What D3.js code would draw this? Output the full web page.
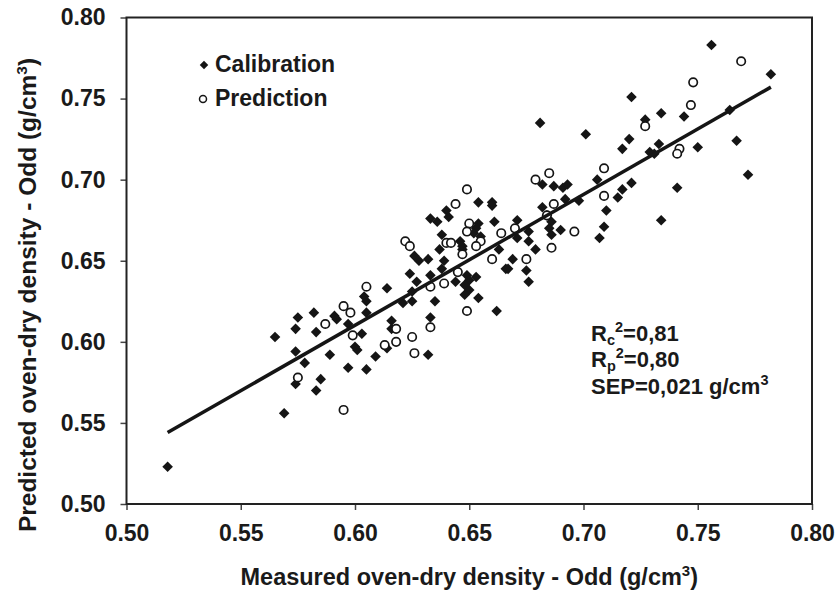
<!DOCTYPE html>
<html>
<head>
<meta charset="utf-8">
<script src="https://cdn.jsdelivr.net/npm/d3@7/dist/d3.min.js"></script>
<style>
  body { margin: 0; background: #fff; }
  text { font-family: "Liberation Sans", Arial, sans-serif; font-weight: bold; fill: #1a1a1a; }
</style>
</head>
<body>
<svg id="chart" width="838" height="593"></svg>
<script>
// Measured vs predicted oven-dry density, [measured, predicted] in g/cm3
const calibration = [
  [0.518,0.523],[0.565,0.603],[0.575,0.615],[0.574,0.608],[0.582,0.618],[0.583,0.606],[0.591,0.616],[0.592,0.614],
  [0.597,0.611],[0.603,0.605],[0.604,0.628],[0.605,0.625],[0.605,0.618],[0.574,0.594],[0.578,0.587],[0.589,0.592],
  [0.600,0.597],[0.601,0.595],[0.597,0.584],[0.605,0.583],[0.609,0.591],[0.574,0.574],[0.585,0.577],[0.583,0.570],
  [0.569,0.556],[0.614,0.633],[0.616,0.613],[0.614,0.596],[0.616,0.608],[0.621,0.624],[0.625,0.625],[0.625,0.631],
  [0.624,0.642],[0.627,0.637],[0.626,0.653],[0.628,0.650],[0.632,0.651],[0.633,0.641],[0.635,0.625],[0.633,0.615],
  [0.632,0.592],[0.633,0.676],[0.636,0.674],[0.640,0.681],[0.641,0.677],[0.638,0.666],[0.637,0.657],[0.639,0.650],
  [0.638,0.645],[0.646,0.662],[0.647,0.659],[0.647,0.657],[0.644,0.637],[0.649,0.641],[0.650,0.638],[0.653,0.640],
  [0.648,0.635],[0.650,0.632],[0.648,0.629],[0.654,0.627],[0.654,0.686],[0.660,0.686],[0.660,0.684],[0.661,0.674],
  [0.654,0.673],[0.653,0.670],[0.652,0.667],[0.655,0.665],[0.663,0.657],[0.662,0.619],[0.671,0.675],[0.671,0.664],
  [0.676,0.668],[0.676,0.662],[0.679,0.657],[0.669,0.651],[0.666,0.645],[0.667,0.645],[0.675,0.644],[0.676,0.637],
  [0.682,0.683],[0.684,0.678],[0.686,0.674],[0.685,0.670],[0.690,0.669],[0.686,0.666],[0.682,0.697],[0.687,0.696],
  [0.691,0.695],[0.693,0.697],[0.692,0.688],[0.698,0.687],[0.681,0.735],[0.701,0.728],[0.706,0.700],[0.710,0.681],
  [0.709,0.671],[0.707,0.664],[0.715,0.689],[0.717,0.694],[0.721,0.698],[0.756,0.783],[0.782,0.765],[0.721,0.751],
  [0.734,0.741],[0.744,0.739],[0.727,0.737],[0.720,0.725],[0.717,0.719],[0.733,0.722],[0.729,0.717],[0.731,0.716],
  [0.750,0.720],[0.764,0.743],[0.767,0.724],[0.772,0.703],[0.741,0.695],[0.734,0.675]
];
const prediction = [
  [0.605,0.634],[0.595,0.622],[0.598,0.618],[0.587,0.611],[0.599,0.604],[0.575,0.578],[0.595,0.558],[0.613,0.598],
  [0.618,0.608],[0.618,0.600],[0.625,0.603],[0.626,0.593],[0.633,0.609],[0.649,0.619],[0.639,0.636],[0.645,0.643],
  [0.633,0.634],[0.622,0.662],[0.624,0.659],[0.640,0.661],[0.642,0.661],[0.644,0.685],[0.649,0.694],[0.650,0.673],
  [0.649,0.668],[0.655,0.662],[0.653,0.659],[0.647,0.654],[0.664,0.667],[0.670,0.670],[0.660,0.651],[0.675,0.651],
  [0.686,0.658],[0.696,0.668],[0.679,0.700],[0.685,0.704],[0.687,0.685],[0.684,0.678],[0.709,0.707],[0.709,0.690],
  [0.769,0.773],[0.748,0.760],[0.747,0.746],[0.727,0.733],[0.742,0.719],[0.741,0.716]
];
// Calibration regression: predicted = intercept + slope * measured
const fitSlope = 0.807;
const fitIntercept = 0.126;
const fitRange = [0.518, 0.782];

const xTicks = [0.50, 0.55, 0.60, 0.65, 0.70, 0.75, 0.80];
const yTicks = [0.50, 0.55, 0.60, 0.65, 0.70, 0.75, 0.80];
const legendLabels = ["Calibration", "Prediction"];
const xTitle = ["Measured oven-dry density - Odd (g/cm", "3", ")"];
const yTitle = ["Predicted oven-dry density - Odd (g/cm", "3", ")"];
// Statistics: [main, subscript, superscript, rest]
const statsLines = [
  ["R", "c", "2", "=0,81"],
  ["R", "p", "2", "=0,80"],
  ["SEP=0,021 g/cm", "", "3", ""]
];

const svg = d3.select("#chart");
const plotLeft = 126.5, plotRight = 812, plotTop = 17.5, plotBottom = 504;
const x = d3.scaleLinear().domain([0.5, 0.8]).range([plotLeft, plotRight]);
const y = d3.scaleLinear().domain([0.5, 0.8]).range([plotBottom, plotTop]);
const ink = "#151515";

// Axes
const fmt = d3.format(".2f");
const gx = svg.append("g").attr("transform", `translate(0,${plotBottom})`)
  .call(d3.axisBottom(x).tickValues(xTicks).tickFormat(fmt).tickSize(6).tickPadding(15));
const gy = svg.append("g").attr("transform", `translate(${plotLeft},0)`)
  .call(d3.axisLeft(y).tickValues(yTicks).tickFormat(fmt).tickSize(6).tickPadding(15));
[gx, gy].forEach(g => {
  g.select(".domain").remove();
  g.selectAll(".tick line").attr("stroke", "#444").attr("stroke-width", 1.5);
  g.selectAll(".tick text").attr("font-size", 23).attr("fill", "#1a1a1a")
    .attr("font-family", "Liberation Sans, Arial, sans-serif").attr("font-weight", "bold");
});

// Plot frame
svg.append("rect")
  .attr("x", plotLeft).attr("y", plotTop)
  .attr("width", plotRight - plotLeft).attr("height", plotBottom - plotTop)
  .attr("fill", "none").attr("stroke", "#222").attr("stroke-width", 2);

// Calibration points (filled diamonds)
const diamond = d3.symbol().type(d3.symbolSquare).size(56);
svg.append("g").selectAll("path")
  .data(calibration).join("path")
  .attr("d", diamond)
  .attr("transform", d => `translate(${x(d[0])},${y(d[1])}) rotate(45)`)
  .attr("fill", ink);

// Prediction points (open circles)
svg.append("g").selectAll("circle")
  .data(prediction).join("circle")
  .attr("cx", d => x(d[0])).attr("cy", d => y(d[1]))
  .attr("r", 4.2)
  .attr("fill", "#fff").attr("stroke", ink).attr("stroke-width", 1.7);

// Regression line
svg.append("line")
  .attr("x1", x(fitRange[0])).attr("y1", y(fitIntercept + fitSlope * fitRange[0]))
  .attr("x2", x(fitRange[1])).attr("y2", y(fitIntercept + fitSlope * fitRange[1]))
  .attr("stroke", ink).attr("stroke-width", 3.5);

// Legend
const legend = svg.append("g");
legend.append("path")
  .attr("d", d3.symbol().type(d3.symbolSquare).size(36))
  .attr("transform", "translate(204,65) rotate(45)").attr("fill", ink);
legend.append("circle").attr("cx", 203).attr("cy", 99).attr("r", 3.5)
  .attr("fill", "#fff").attr("stroke", ink).attr("stroke-width", 1.5);
legend.selectAll("text").data(legendLabels).join("text")
  .attr("x", 215).attr("y", (d, i) => 72 + i * 34)
  .attr("font-size", 23).text(d => d);

// Statistics block
statsLines.forEach((parts, i) => {
  const t = svg.append("text").attr("x", 591).attr("y", 341 + i * 26.3).attr("font-size", 22);
  t.append("tspan").text(parts[0]);
  let shift = 0;
  if (parts[1]) { t.append("tspan").attr("font-size", 14.5).attr("dy", 4).text(parts[1]); shift = 4; }
  t.append("tspan").attr("font-size", 14.5).attr("dy", -9 - shift).text(parts[2]);
  if (parts[3]) t.append("tspan").attr("dy", 9).text(parts[3]);
});

// Axis titles
const xt = svg.append("text").attr("x", (plotLeft + plotRight) / 2).attr("y", 585)
  .attr("text-anchor", "middle").attr("font-size", 23.5);
xt.append("tspan").text(xTitle[0]);
xt.append("tspan").attr("font-size", 15).attr("dy", -9).text(xTitle[1]);
xt.append("tspan").attr("dy", 9).text(xTitle[2]);

const yt = svg.append("text").attr("transform", "translate(36,295) rotate(-90)")
  .attr("text-anchor", "middle").attr("font-size", 24.5);
yt.append("tspan").text(yTitle[0]);
yt.append("tspan").attr("font-size", 15.5).attr("dy", -9).text(yTitle[1]);
yt.append("tspan").attr("dy", 9).text(yTitle[2]);
</script>
</body>
</html>
